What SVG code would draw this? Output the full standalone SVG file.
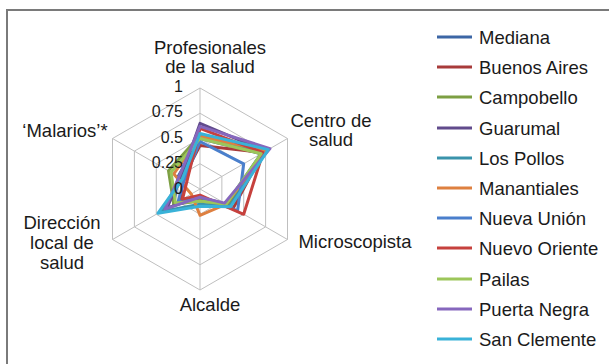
<svg xmlns="http://www.w3.org/2000/svg" width="609" height="364" viewBox="0 0 609 364">
<style>
text{font-family:"Liberation Sans",Arial,sans-serif;fill:#1a1a1a}
.lbl{font-size:18.5px;text-anchor:middle}
.tick{font-size:16px;text-anchor:end}
.leg{font-size:18.5px}
.grid{fill:none;stroke:#bfbfbf;stroke-width:1}
.s{fill:none;stroke-width:3;stroke-linejoin:round}
.ll{stroke-width:3}
</style>
<rect x="0" y="0" width="609" height="364" fill="#ffffff"/>
<rect x="7" y="10" width="700" height="400" fill="none" stroke="#7a7a7a" stroke-width="2"/>
<g id="grid">
<polygon class="grid" points="200,88 287.5,138.5 287.5,239.5 200,290 112.5,239.5 112.5,138.5"/>
<polygon class="grid" points="200,113.25 265.6,151.12 265.6,226.88 200,264.75 134.4,226.88 134.4,151.12"/>
<polygon class="grid" points="200,138.5 243.73,163.75 243.73,214.25 200,239.5 156.27,214.25 156.27,163.75"/>
<polygon class="grid" points="200,163.75 221.87,176.37 221.87,201.63 200,214.25 178.13,201.63 178.13,176.37"/>
<path class="grid" d="M200,189L200,88M200,189L287.5,138.5M200,189L287.5,239.5M200,189L200,290M200,189L112.5,239.5M200,189L112.5,138.5"/>
</g>
<g id="axis-labels">
<g id="ax-prof"><text class="lbl" x="210" y="54">Profesionales</text><text class="lbl" x="210" y="73">de la salud</text></g>
<g id="ax-centro"><text class="lbl" x="331" y="127">Centro de</text><text class="lbl" x="331" y="146">salud</text></g>
<g id="ax-micro"><text class="lbl" x="355" y="248">Microscopista</text></g>
<g id="ax-alcalde"><text class="lbl" x="210" y="311">Alcalde</text></g>
<g id="ax-dir"><text class="lbl" x="62" y="229">Dirección</text><text class="lbl" x="62" y="249">local de</text><text class="lbl" x="62" y="269">salud</text></g>
<g id="ax-mal"><text class="lbl" x="65" y="137">‘Malarios’*</text></g>
</g>
<g id="series">
<polygon class="s" stroke="#3C66A5" points="200,138.5 261.2,153.7 226.2,204.2 200,199.1 173.8,204.2 178.1,176.4"/>
<polygon class="s" stroke="#A83B3A" points="200,145.6 263,152.6 233.2,208.2 200,199.1 180.8,200.1 182.5,178.9"/>
<polygon class="s" stroke="#7D9F43" points="200,135.5 261.2,153.7 228,205.2 200,201.1 173.8,204.2 168.5,170.8"/>
<polygon class="s" stroke="#614B8C" points="200,123.4 265.6,151.1 226.2,204.2 200,197.1 166.8,208.2 180.8,177.9"/>
<polygon class="s" stroke="#3A93AB" points="200,136.5 264.7,151.6 229.7,206.2 200,204.2 160.6,211.7 182.5,178.9"/>
<polygon class="s" stroke="#DE8040" points="200,136.5 266.5,150.6 226.2,204.2 200,215.3 191.3,194.1 173.8,173.9"/>
<polygon class="s" stroke="#4A7FCC" points="200,141.5 243.7,163.8 237.6,210.7 200,197.1 178.1,201.6 184.3,179.9"/>
<polygon class="s" stroke="#C6413D" points="200,128.4 263,152.6 243.7,214.3 200,195.1 182.5,199.1 186.9,181.4"/>
<polygon class="s" stroke="#9CC65A" points="200,138.5 261.2,153.7 226.2,204.2 200,201.1 175.5,203.1 171.1,172.3"/>
<polygon class="s" stroke="#8667BD" points="200,126.4 270,148.6 224.5,203.1 200,197.1 165,209.2 179,176.9"/>
<polygon class="s" stroke="#39B2D8" points="200,133.5 268.2,149.6 230.6,206.7 200,206.2 158,213.2 182.5,178.9"/>
</g>
<g id="ticks">
<text class="tick" x="183" y="92">1</text>
<text class="tick" x="183" y="117">0.75</text>
<text class="tick" x="183" y="143">0.5</text>
<text class="tick" x="183" y="168">0.25</text>
<text class="tick" x="183" y="194">0</text>
</g>
<g id="legend">
<g id="leg-mediana"><line class="ll" x1="437" y1="37" x2="472" y2="37" stroke="#3C66A5"/><text class="leg" x="479" y="43.5">Mediana</text></g>
<g id="leg-buenos"><line class="ll" x1="437" y1="67" x2="472" y2="67" stroke="#A83B3A"/><text class="leg" x="479" y="73.5">Buenos Aires</text></g>
<g id="leg-campo"><line class="ll" x1="437" y1="97" x2="472" y2="97" stroke="#7D9F43"/><text class="leg" x="479" y="103.5">Campobello</text></g>
<g id="leg-guarumal"><line class="ll" x1="437" y1="128" x2="472" y2="128" stroke="#614B8C"/><text class="leg" x="479" y="134.5">Guarumal</text></g>
<g id="leg-pollos"><line class="ll" x1="437" y1="158" x2="472" y2="158" stroke="#3A93AB"/><text class="leg" x="479" y="164.5">Los Pollos</text></g>
<g id="leg-manant"><line class="ll" x1="437" y1="188" x2="472" y2="188" stroke="#DE8040"/><text class="leg" x="479" y="194.5">Manantiales</text></g>
<g id="leg-nunion"><line class="ll" x1="437" y1="218" x2="472" y2="218" stroke="#4A7FCC"/><text class="leg" x="479" y="224.5">Nueva Unión</text></g>
<g id="leg-noriente"><line class="ll" x1="437" y1="248" x2="472" y2="248" stroke="#C6413D"/><text class="leg" x="479" y="254.5">Nuevo Oriente</text></g>
<g id="leg-pailas"><line class="ll" x1="437" y1="279" x2="472" y2="279" stroke="#9CC65A"/><text class="leg" x="479" y="285.5">Pailas</text></g>
<g id="leg-puerta"><line class="ll" x1="437" y1="309" x2="472" y2="309" stroke="#8667BD"/><text class="leg" x="479" y="315.5">Puerta Negra</text></g>
<g id="leg-sanclem"><line class="ll" x1="437" y1="339" x2="472" y2="339" stroke="#39B2D8"/><text class="leg" x="479" y="345.5">San Clemente</text></g>
</g>
</svg>
